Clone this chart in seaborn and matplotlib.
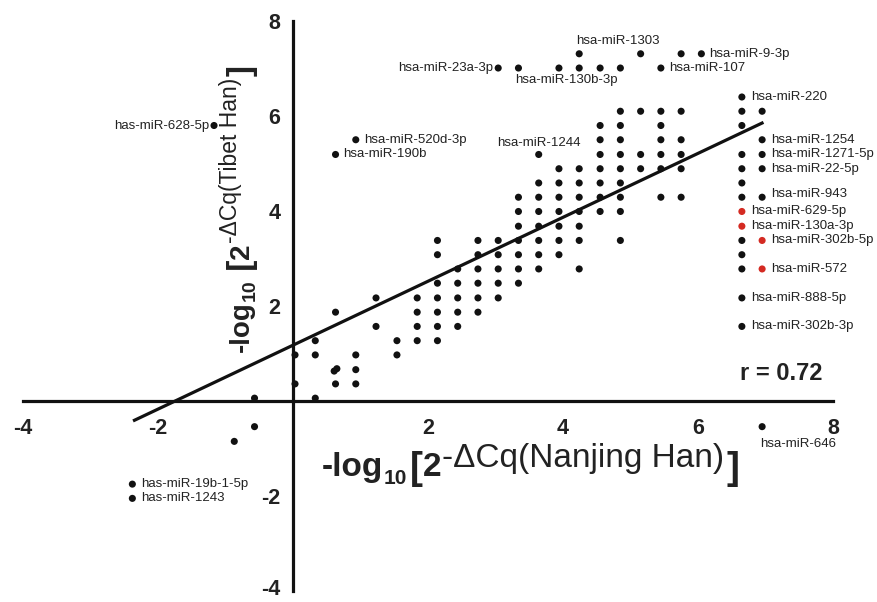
import matplotlib
matplotlib.use("Agg")
import matplotlib.pyplot as plt
import matplotlib.transforms as mtransforms
import seaborn as sns
import pandas as pd

sns.set_theme(style="white")
plt.rcParams['font.family'] = ['Liberation Sans', 'DejaVu Sans']
plt.rcParams['axes.unicode_minus'] = False

# ---- data: -log10[2^-dCq] Nanjing Han (x) vs Tibet Han (y) ----
nanjing = [
    -2.38,
    -2.38,
    -0.87,
    -0.57, 6.95,
    -0.57, 0.33,
    0.03, 0.63, 0.93,
    0.61, 0.65, 0.93,
    0.03, 0.33, 0.93, 1.54,
    0.33, 1.54, 1.84, 2.14,
    1.23, 1.84, 2.14, 2.44, 6.65,
    0.63, 1.84, 2.14, 2.44, 2.74,
    1.23, 1.84, 2.14, 2.44, 2.74, 3.04, 6.65,
    2.14, 2.44, 2.74, 3.04, 3.34,
    2.44, 2.74, 3.04, 3.34, 3.64, 4.24, 6.65,
    2.14, 2.74, 3.04, 3.34, 3.64, 3.94, 6.65,
    2.14, 2.74, 3.04, 3.34, 3.64, 3.94, 4.24, 4.85, 6.65,
    3.34, 3.64, 3.94, 4.24,
    3.34, 3.64, 3.94, 4.24, 4.55, 4.85,
    3.34, 3.64, 3.94, 4.24, 4.55, 4.85, 5.45, 5.75, 6.65, 6.95,
    3.64, 3.94, 4.24, 4.55, 4.85, 6.65,
    3.94, 4.24, 4.55, 4.85, 5.15, 5.45, 5.75, 6.65, 6.95,
    0.63, 3.64, 4.55, 4.85, 5.15, 5.45, 5.75, 6.65, 6.95,
    0.93, 4.55, 4.85, 5.45, 5.75, 6.95,
    -1.17, 4.55, 4.85, 5.45, 6.65,
    4.85, 5.15, 5.45, 5.75, 6.65, 6.95,
    6.65,
    3.04, 3.34, 3.94, 4.24, 4.55, 4.85, 5.45,
    4.24, 5.15, 5.75, 6.05,
]
tibet = [
    -2.05,
    -1.75,
    -0.85,
    -0.54, -0.54,
    0.06, 0.06,
    0.36, 0.36, 0.36,
    0.63, 0.68, 0.66,
    0.97, 0.97, 0.97, 0.97,
    1.27, 1.27, 1.27, 1.27,
    1.57, 1.57, 1.57, 1.57, 1.57,
    1.87, 1.87, 1.87, 1.87, 1.87,
    2.17, 2.17, 2.17, 2.17, 2.17, 2.17, 2.17,
    2.48, 2.48, 2.48, 2.48, 2.48,
    2.78, 2.78, 2.78, 2.78, 2.78, 2.78, 2.78,
    3.08, 3.08, 3.08, 3.08, 3.08, 3.08, 3.08,
    3.38, 3.38, 3.38, 3.38, 3.38, 3.38, 3.38, 3.38, 3.38,
    3.68, 3.68, 3.68, 3.68,
    3.99, 3.99, 3.99, 3.99, 3.99, 3.99,
    4.29, 4.29, 4.29, 4.29, 4.29, 4.29, 4.29, 4.29, 4.29, 4.29,
    4.59, 4.59, 4.59, 4.59, 4.59, 4.59,
    4.89, 4.89, 4.89, 4.89, 4.89, 4.89, 4.89, 4.89, 4.89,
    5.19, 5.19, 5.19, 5.19, 5.19, 5.19, 5.19, 5.19, 5.19,
    5.50, 5.50, 5.50, 5.50, 5.50, 5.50,
    5.80, 5.80, 5.80, 5.80, 5.80,
    6.10, 6.10, 6.10, 6.10, 6.10, 6.10,
    6.40,
    7.01, 7.01, 7.01, 7.01, 7.01, 7.01, 7.01,
    7.31, 7.31, 7.31, 7.31,
]
red_nanjing = [6.65, 6.65, 6.95, 6.95]
red_tibet = [3.99, 3.68, 3.38, 2.78]

label_names = ["hsa-miR-1303", "hsa-miR-9-3p", "hsa-miR-23a-3p", "hsa-miR-130b-3p",
               "hsa-miR-107", "hsa-miR-220", "has-miR-628-5p", "hsa-miR-520d-3p",
               "hsa-miR-190b", "hsa-miR-1244", "hsa-miR-1254", "hsa-miR-1271-5p",
               "hsa-miR-22-5p", "hsa-miR-943", "hsa-miR-629-5p", "hsa-miR-130a-3p",
               "hsa-miR-302b-5p", "hsa-miR-572", "hsa-miR-888-5p", "hsa-miR-302b-3p",
               "hsa-miR-646", "has-miR-19b-1-5p", "has-miR-1243"]
label_x = [4.24, 6.05, 3.04, 4.24, 5.45, 6.65, -1.17, 0.93, 0.63, 3.64, 6.95, 6.95,
           6.95, 6.95, 6.65, 6.65, 6.95, 6.95, 6.65, 6.65, 6.95, -2.38, -2.38]
label_y = [7.31, 7.31, 7.01, 7.01, 7.01, 6.40, 5.80, 5.50, 5.19, 5.19, 5.50, 5.19,
           4.89, 4.29, 3.99, 3.68, 3.38, 2.78, 2.17, 1.57, -0.54, -1.75, -2.05]

fit_x = [-2.37, 6.97]
fit_slope = 0.673
fit_intercept = 1.175
r_text = "r = 0.72"
x_ticks = [-4, -2, 2, 4, 6, 8]
y_ticks = [-4, -2, 2, 4, 6, 8]

# ---- styles (layout only) ----
label_off = [(-3, 13), (8, 0), (-5, 0), (-13, -12), (8, 0), (9, 0), (-5, 0), (8, 0),
             (8, 0), (0, 11), (9, 0), (9, 0), (9, 0), (9, 3), (9, 0), (9, 0),
             (9, 0), (9, 0), (9, 0), (9, 0), (-2, -17), (9, 0), (9, 0)]
label_ha = ['left', 'left', 'right', 'center', 'left', 'left', 'right', 'left',
            'left', 'center', 'left', 'left', 'left', 'left', 'left', 'left',
            'left', 'left', 'left', 'left', 'left', 'left', 'left']

fig = plt.figure(figsize=(8.77, 6.02), dpi=100)
ax = fig.add_axes([23 / 877, 11 / 602, 810 / 877, 570 / 602])

df = pd.DataFrame({"nanjing": nanjing, "tibet": tibet})
df_red = pd.DataFrame({"nanjing": red_nanjing, "tibet": red_tibet})
sns.scatterplot(data=df, x="nanjing", y="tibet", ax=ax, color="#111111",
                s=26, edgecolor="none", zorder=3)
sns.scatterplot(data=df_red, x="nanjing", y="tibet", ax=ax, color="#d42a22",
                s=26, edgecolor="none", zorder=3)

fit_y = [fit_intercept + fit_slope * v for v in fit_x]
ax.plot(fit_x, fit_y, color="#111111", lw=2.3, zorder=2, solid_capstyle="butt")

for name, x, y, off, ha in zip(label_names, label_x, label_y, label_off, label_ha):
    ax.annotate(name, xy=(x, y), xytext=off, textcoords="offset pixels",
                ha=ha, va="center", fontsize=9.5, color="#222222")

ax.text(7.85, 0.58, r_text, ha="right", va="center", fontsize=17,
        fontweight="bold", color="#222222")

ax.set_xlim(-4, 8)
ax.set_ylim(-4, 8)
ax.set_xticks(x_ticks)
ax.set_yticks(y_ticks)
ax.set_xlabel("")
ax.set_ylabel("")
for side in ["top", "right"]:
    ax.spines[side].set_visible(False)
for side in ["left", "bottom"]:
    ax.spines[side].set_position(("data", 0))
    ax.spines[side].set_linewidth(2.3)
    ax.spines[side].set_color("#111111")
ax.tick_params(direction="out", length=6, width=2.3, color="#111111",
               labelsize=15.5, labelcolor="#222222", pad=3)
ax.tick_params(axis="x", pad=6)
for lbl in ax.get_xticklabels() + ax.get_yticklabels():
    lbl.set_fontweight("bold")
# lift the lowest y tick label slightly so it stays inside the canvas
low = ax.get_yticklabels()[0]
low.set_transform(low.get_transform() +
                  mtransforms.ScaledTranslation(0, 4 / 100, fig.dpi_scale_trans))
ax.patch.set_alpha(0)


def chain_label(pieces, start, rotation):
    prev = None
    for text, size, weight, rise, gap in pieces:
        if rotation == 0:
            if prev is None:
                xy, coords = start, "figure pixels"
            else:
                xy, coords = (1, start[1]), (prev, "figure pixels")
            off = (gap, rise)
        else:
            if prev is None:
                xy, coords = start, "figure pixels"
            else:
                xy, coords = (start[0], 1), ("figure pixels", prev)
            off = (-rise, gap)
        prev = ax.annotate(text, xy=xy, xycoords=coords, xytext=off,
                           textcoords="offset pixels", fontsize=size,
                           fontweight=weight, ha="left", va="baseline",
                           rotation=rotation, rotation_mode="anchor",
                           annotation_clip=False, color="#222222")


x_pieces = [("-log", 24, "bold", 0, 0), ("10", 15, "bold", -8, 0),
            ("[", 28, "bold", -3, 3), ("2", 24, "bold", 0, 0),
            ("-ΔCq(Nanjing Han)", 24, "normal", 9, 1), ("]", 28, "bold", -3, 2)]
y_pieces = [("-log", 20, "bold", 0, 0), ("10", 14, "bold", -6, 0),
            (" [", 24, "bold", -2, 0), ("2", 20, "bold", 0, 0),
            ("-ΔCq(Tibet Han)", 16.5, "normal", 12, 1), ("]", 24, "bold", -2, 2)]
chain_label(x_pieces, (322, 126), 0)
chain_label(y_pieces, (249, 250), 90)

fig.savefig("out.png", dpi=100)
